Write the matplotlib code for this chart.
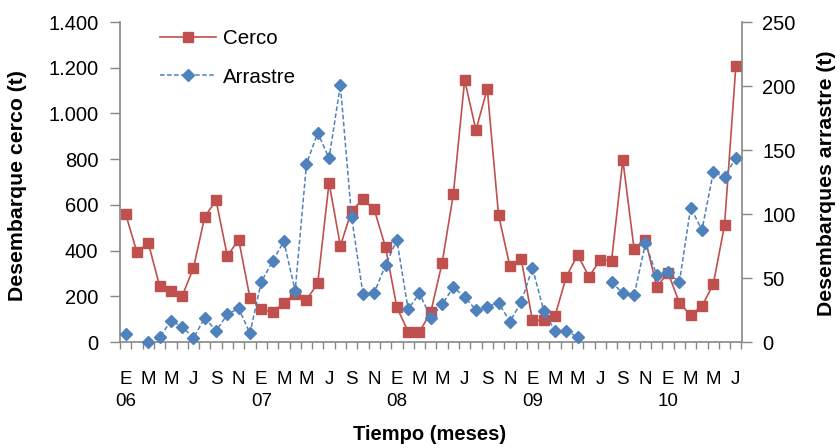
import matplotlib
matplotlib.use("Agg")
import matplotlib.pyplot as plt
import numpy as np
from matplotlib.ticker import FuncFormatter, MultipleLocator

plt.rcParams['font.family'] = ['Liberation Sans', 'DejaVu Sans']

# ---- data ----
month_letters = ['E', 'F', 'M', 'A', 'M', 'J', 'J', 'A', 'S', 'O', 'N', 'D']
years = ['06', '07', '08', '09', '10']
n_months = 55  # Jan 2006 .. Jul 2010

cerco = [560, 392, 434, 246, 222, 201, 324, 548, 620, 376,
         448, 194, 144, 130, 172, 210, 184, 257, 697, 421,
         574, 624, 580, 414, 152, 45, 45, 130, 344, 647,
         1146, 927, 1108, 556, 332, 364, 95, 95, 115, 286,
         381, 286, 359, 356, 796, 405, 446, 242, 303, 172,
         117, 157, 252, 512, 1207]

arrastre = [6, None, 0, 3.6, 16.4, 12, 3, 19, 8.6, 21.6,
            26.3, 6.8, 47, 63, 78.6, 40, 139, 163.5, 143.5, 200.8,
            97.4, 37.5, 38.5, 60, 79.7, 25.5, 38, 19, 29.4, 42.7,
            35.4, 25, 27.6, 30.7, 15.9, 31, 58, 24.2, 8.6, 8.3,
            4, None, None, 47, 38, 36.7, 77, 52.3, 54.4, 46.6,
            105, 87.5, 132.5, 129, 144]

x = np.arange(n_months)
cerco_a = np.array(cerco, dtype=float)
arr_a = np.array([np.nan if v is None else v for v in arrastre], dtype=float)

red = '#C0504D'
blue = '#4F81BD'
gray = '#868686'

fig = plt.figure(figsize=(8.4, 4.48), dpi=100)
ax = fig.add_axes([120/840, 1-342/448, 621.5/840, 320/448])
ax2 = ax.twinx()

l1, = ax.plot(x, cerco_a, color=red, lw=1.2, marker='s', markersize=6.7,
              markerfacecolor=red, markeredgecolor=red, clip_on=False, label='Cerco')
l2, = ax2.plot(x, arr_a, color=blue, lw=1.1, linestyle=(0, (3, 1.6)), marker='D',
               markersize=5.7, markerfacecolor=blue, markeredgecolor=blue,
               clip_on=False, label='Arrastre')

ax.set_xlim(-0.5, n_months - 0.5)
ax.set_ylim(0, 1400)
ax2.set_ylim(0, 250)
ax.yaxis.set_major_locator(MultipleLocator(200))
ax2.yaxis.set_major_locator(MultipleLocator(50))
ax.yaxis.set_major_formatter(FuncFormatter(lambda v, p: f"{int(v):,}".replace(",", ".")))

# x ticks
tick_pos = list(range(0, n_months, 2))
tick_labels = []
for i in tick_pos:
    m = i % 12
    lab = month_letters[m]
    if m == 0:
        lab = lab + "\n" + years[i // 12]
    tick_labels.append(lab)
ax.set_xticks(tick_pos)
ax.set_xticklabels(tick_labels, fontsize=13.5, linespacing=1.38)
ax.set_xticks(np.arange(-0.5, n_months, 1), minor=True)
ax.tick_params(axis='x', which='major', length=0, pad=21)
ax.tick_params(axis='x', which='minor', length=5, width=1, color=gray, direction='out')

for a in (ax, ax2):
    a.spines['top'].set_visible(False)
    for s in a.spines.values():
        s.set_color(gray)
        s.set_linewidth(1.2)
ax.spines['right'].set_visible(False)
ax2.spines['left'].set_visible(False)
ax2.spines['bottom'].set_visible(False)

ax.tick_params(axis='y', length=7, width=1, color=gray, labelsize=14.5, pad=8.5)
ax2.tick_params(axis='y', length=7, width=1, color=gray, labelsize=14.5, pad=8)

fig.text(18/840, 1-186/448, 'Desembarque cerco (t)', fontsize=15.3, fontweight='bold',
         rotation=90, ha='center', va='center')
fig.text(827/840, 1-183/448, 'Desembarques arrastre (t)', fontsize=15.3, fontweight='bold',
         rotation=90, ha='center', va='center')
fig.text(430/840, 1-434/448, 'Tiempo (meses)', fontsize=14.5, fontweight='bold',
         ha='center', va='center')

leg = ax2.legend(handles=[l1, l2], loc='upper left',
                 bbox_to_anchor=(160/840, 1-29/448), bbox_transform=fig.transFigure,
                 frameon=False, fontsize=14.8, handlelength=2.7, handletextpad=0.35,
                 labelspacing=0.95, borderpad=0, borderaxespad=0)

fig.savefig('out.png', dpi=100)
